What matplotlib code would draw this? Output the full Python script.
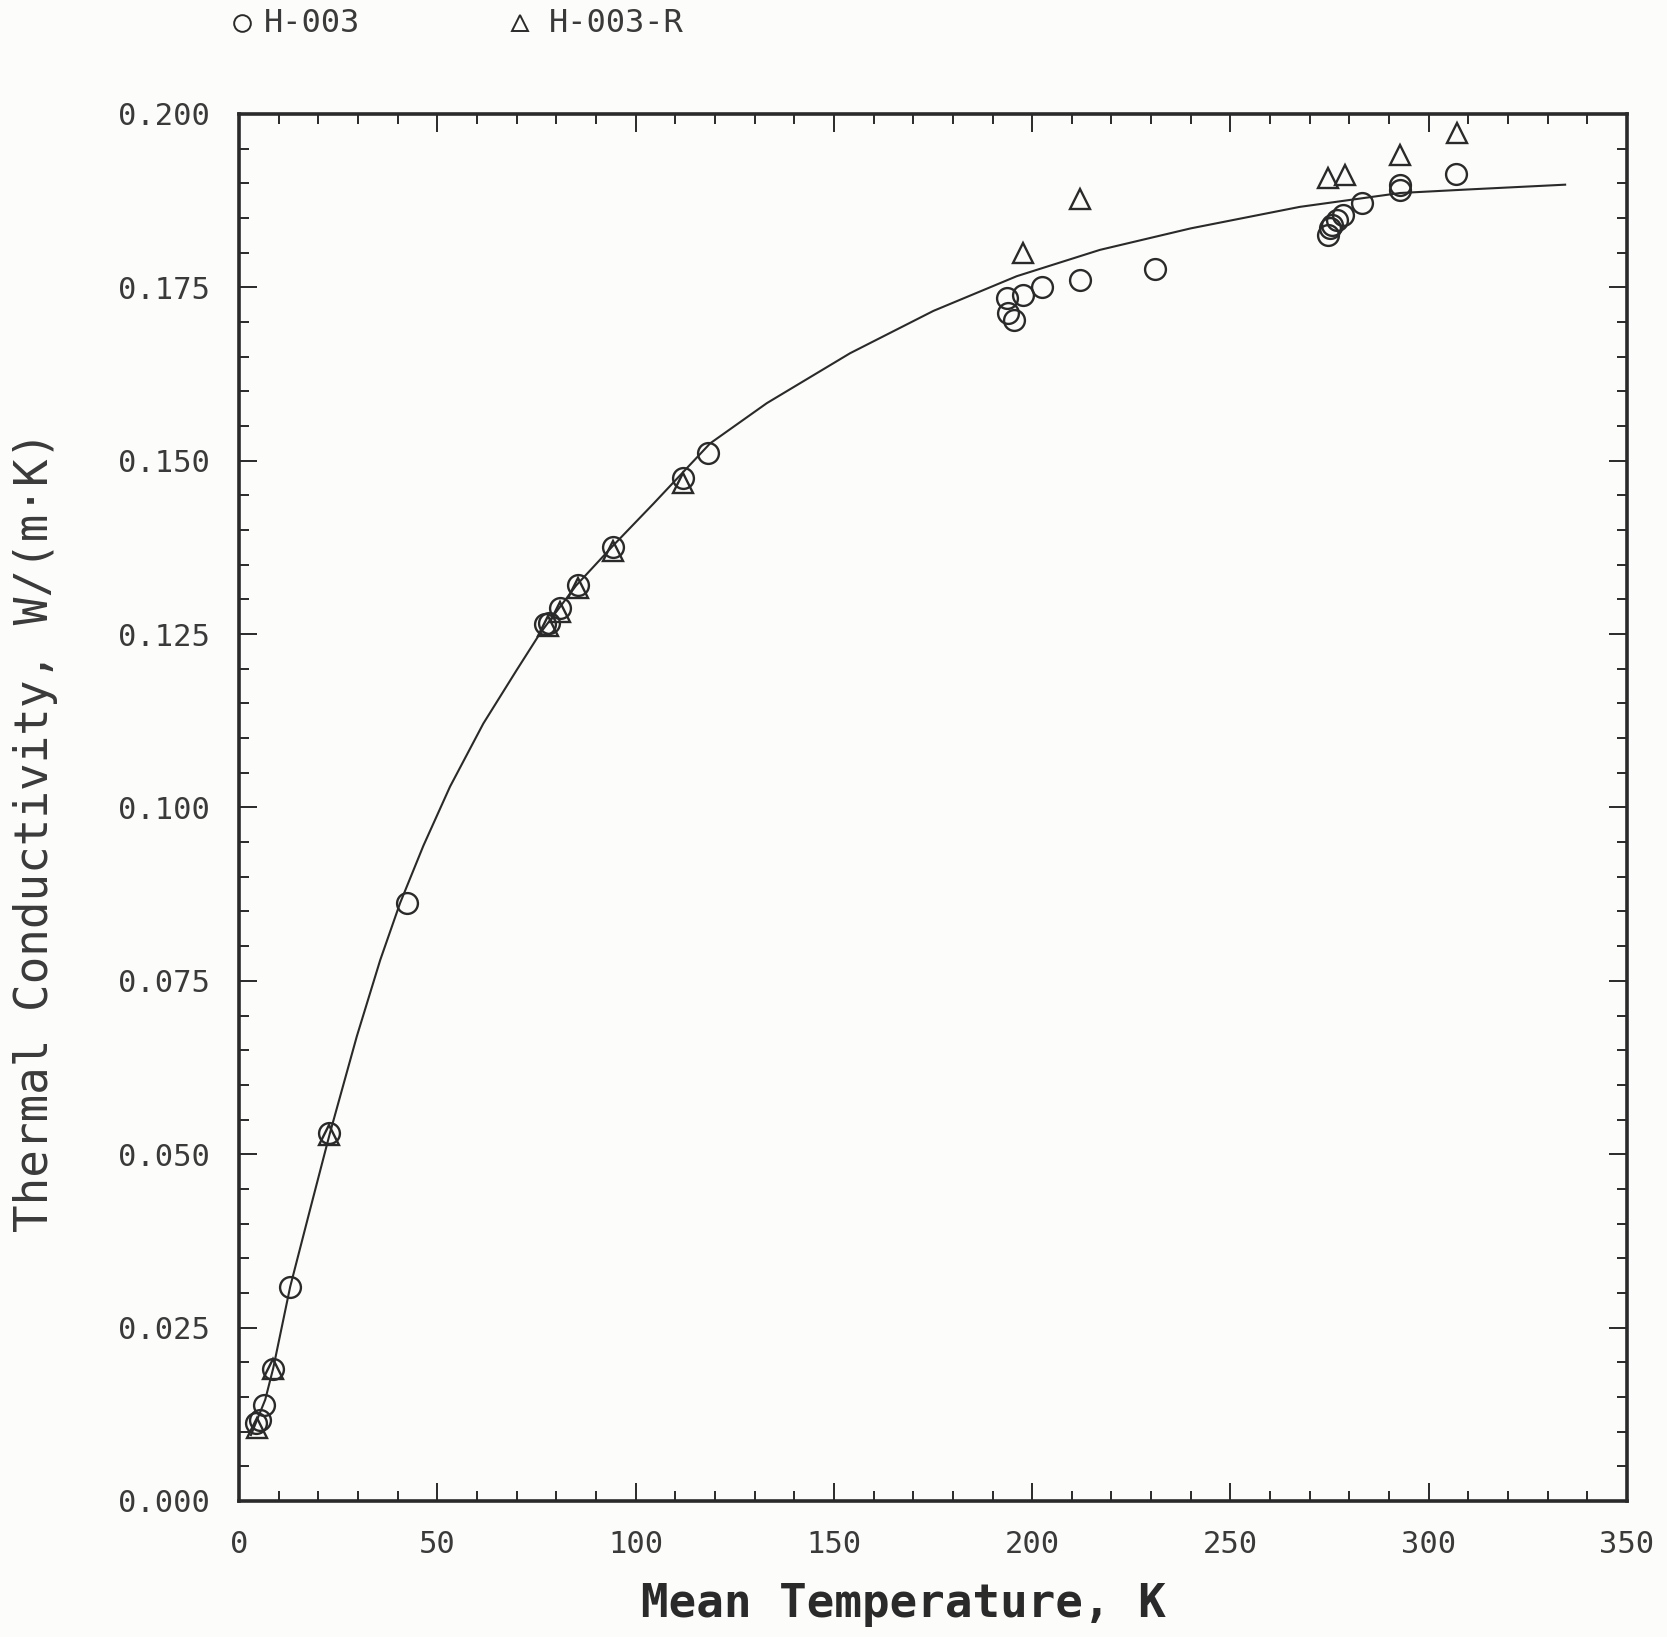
import numpy as np
import matplotlib.pyplot as plt
from matplotlib.lines import Line2D
from matplotlib.ticker import MultipleLocator, FormatStrFormatter

# H-003 measurements (circles)
h003_temp = [4.4, 5.4, 6.4, 8.6, 12.9, 22.8, 42.3, 77.2, 78.2, 80.9, 85.6, 94.4,
             112.0, 118.3, 193.6, 194.0, 195.3, 197.8, 202.4, 212.1, 231.1,
             274.7, 275.2, 275.5, 276.8, 278.5, 283.1, 292.8, 292.8, 307.0]
h003_k = [0.0112, 0.0117, 0.0138, 0.0191, 0.0309, 0.0530, 0.0862, 0.1265, 0.1266,
          0.1287, 0.1321, 0.1376, 0.1475, 0.1511, 0.1734, 0.1713, 0.1703, 0.1739,
          0.1750, 0.1760, 0.1777, 0.1826, 0.1835, 0.1840, 0.1847, 0.1854, 0.1871,
          0.1891, 0.1897, 0.1914]

# H-003-R measurements (triangles)
h003r_temp = [4.6, 8.6, 22.8, 77.8, 81.0, 85.6, 94.4, 112.0, 197.8, 212.1,
              274.7, 278.9, 292.8, 307.1]
h003r_k = [0.0105, 0.0190, 0.0528, 0.1262, 0.1282, 0.1317, 0.1370, 0.1468,
           0.1799, 0.1878, 0.1907, 0.1912, 0.1941, 0.1972]

# fitted curve
fit_temp = [3.0, 6.6, 8.6, 12.9, 17.9, 22.9, 29.7, 35.6, 40.6, 46.5, 53.2, 61.6,
            70.0, 75.9, 85.0, 94.4, 104.5, 118.8, 133.1, 154.1, 175.1, 196.1,
            217.1, 240.0, 267.5, 292.8, 309.6, 334.4]
fit_k = [0.0095, 0.0146, 0.0191, 0.0309, 0.0420, 0.0530, 0.0670, 0.0780, 0.0862,
         0.0945, 0.1030, 0.1121, 0.1198, 0.1251, 0.1320, 0.1378, 0.1438, 0.1525,
         0.1583, 0.1655, 0.1716, 0.1766, 0.1804, 0.1835, 0.1866, 0.1886, 0.1891,
         0.1898]

ink = "#2a2a2a"
bg = "#fcfcfa"
mono = ["DejaVu Sans Mono"]

fig = plt.figure(figsize=(16.67, 16.37), dpi=100, facecolor=bg)
ax = fig.add_axes([0.1434, 0.0831, 0.8326, 0.8473], facecolor=bg)

ax.plot(fit_temp, fit_k, color=ink, linewidth=1.5, zorder=2)
ax.plot(h003_temp, h003_k, linestyle="none", marker="o", markersize=15,
        markerfacecolor="none", markeredgecolor=ink, markeredgewidth=1.7, zorder=3)
ax.plot(h003r_temp, h003r_k, linestyle="none", marker="^", markersize=14,
        markerfacecolor="none", markeredgecolor=ink, markeredgewidth=1.7, zorder=3)

ax.set_xlim(0, 350)
ax.set_ylim(0, 0.2)
ax.xaxis.set_major_locator(MultipleLocator(50))
ax.xaxis.set_minor_locator(MultipleLocator(10))
ax.yaxis.set_major_locator(MultipleLocator(0.025))
ax.yaxis.set_minor_locator(MultipleLocator(0.005))
ax.yaxis.set_major_formatter(FormatStrFormatter("%.3f"))

ax.tick_params(which="both", direction="in", top=True, right=True,
               color=ink, width=1.4)
ax.tick_params(which="major", length=13, pad=21, labelsize=22, labelcolor="#3a3a3a")
ax.tick_params(which="minor", length=7)
for lab in ax.get_xticklabels() + ax.get_yticklabels():
    lab.set_family(mono)

for sp in ax.spines.values():
    sp.set_linewidth(2.6)
    sp.set_color(ink)

ax.text(0.479, -0.075, "Mean Temperature, K", transform=ax.transAxes,
        ha="center", va="center", fontsize=33, fontweight="bold",
        family=mono, color=ink)
ax.text(-0.147, 0.483, "Thermal Conductivity, W/(m\u00b7K)", transform=ax.transAxes,
        ha="center", va="center", rotation=90, fontsize=33,
        family=mono, color="#3a3a3a")

# legend along the top of the figure
fig.add_artist(Line2D([0.1453], [0.9857], marker="o", markersize=12,
                      markerfacecolor="none", markeredgecolor=ink,
                      markeredgewidth=1.4, transform=fig.transFigure))
fig.text(0.158, 0.9857, "H-003", fontsize=23, family=mono, color="#3a3a3a",
         ha="left", va="center")
fig.add_artist(Line2D([0.312], [0.9857], marker="^", markersize=11,
                      markerfacecolor="none", markeredgecolor=ink,
                      markeredgewidth=1.4, transform=fig.transFigure))
fig.text(0.329, 0.9857, "H-003-R", fontsize=23, family=mono, color="#3a3a3a",
         ha="left", va="center")

fig.savefig("out.png", dpi=100, facecolor=bg)
